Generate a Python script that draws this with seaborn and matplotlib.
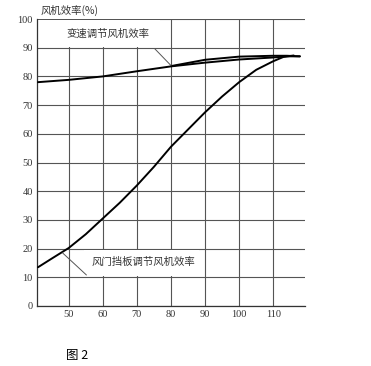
import matplotlib
matplotlib.use("Agg")
import matplotlib.pyplot as plt
from matplotlib.patches import Rectangle
import pandas as pd
import seaborn as sns

# flow (%) vs fan efficiency (%)
damper_flow = [41, 45, 50, 55, 60, 65, 70, 75, 80, 85, 90, 95, 100, 105, 110, 113, 116]
damper_eff = [13.5, 16.5, 20.2, 25.0, 30.5, 36.0, 42.0, 48.5, 55.5, 61.5, 67.5, 73.0, 78.0, 82.3, 85.3, 86.8, 87.3]

speed_flow = [41, 50, 60, 70, 80, 90, 100, 110, 114, 117.8]
speed_eff = [78.0, 78.8, 80.0, 81.8, 83.5, 84.8, 85.9, 86.6, 87.0, 87.0]

speed2_flow = [80, 90, 100, 110, 114, 117.8]
speed2_eff = [83.6, 85.8, 86.9, 87.2, 87.2, 87.0]

x_ticks = [50, 60, 70, 80, 90, 100, 110]
y_ticks = [0, 10, 20, 30, 40, 50, 60, 70, 80, 90, 100]

label_speed = "变速调节风机效率"
label_damper = "风门挡板调节风机效率"
y_title = "风机效率(%)"
caption = "图 2"

sns.set_style("white")
plt.rcParams['font.family'] = ['Liberation Serif', 'Noto Sans CJK SC', 'DejaVu Sans']

fig = plt.figure(figsize=(3.71, 3.66), dpi=100)
ax = fig.add_axes([0.0997, 0.164, 0.7223, 0.784])

df_d = pd.DataFrame({"flow": damper_flow, "eff": damper_eff})
df_s = pd.DataFrame({"flow": speed_flow, "eff": speed_eff})
df_s2 = pd.DataFrame({"flow": speed2_flow, "eff": speed2_eff})
for d in (df_d, df_s, df_s2):
    sns.lineplot(data=d, x="flow", y="eff", ax=ax, color="black", lw=1.4,
                 sort=False, zorder=3)

ax.set_xlim(40.7, 119.3)
ax.set_ylim(0, 100)
ax.set_xticks(x_ticks)
ax.set_yticks(y_ticks)
ax.set_xlabel("")
ax.set_ylabel("")
ax.tick_params(length=0, labelsize=7.5, colors="#333333", pad=3)
ax.grid(True, color="#555555", lw=0.8)
for s in ("top", "right"):
    ax.spines[s].set_visible(False)
for s in ("left", "bottom"):
    ax.spines[s].set_color("#333333")
    ax.spines[s].set_linewidth(0.9)

# white label panels hiding the grid behind the labels
ax.add_patch(Rectangle((40.9, 90.4), 36.0, 9.2, fc="white", ec="none", zorder=1))
ax.add_patch(Rectangle((54.6, 10.4), 33.6, 9.2, fc="white", ec="none", zorder=1))

ax.text(61.5, 95, label_speed, fontsize=7.5, color="#333333", ha="center",
        va="center", family=['Noto Sans CJK SC'], zorder=4)
ax.annotate("", xy=(80, 83.8), xytext=(75.2, 89.7),
            arrowprops=dict(arrowstyle="-", color="#555555", lw=0.7,
                            shrinkA=0, shrinkB=0))

ax.text(56.7, 15.3, label_damper, fontsize=7.5, color="#333333", ha="left",
        va="center", family=['Noto Sans CJK SC'], zorder=4)
ax.annotate("", xy=(48.2, 18.5), xytext=(55.2, 10.8),
            arrowprops=dict(arrowstyle="-", color="#555555", lw=0.7,
                            shrinkA=0, shrinkB=0))

fig.text(0.108, 0.972, y_title, fontsize=7.5, color="#333333",
         ha="left", va="center", family=['Noto Sans CJK SC', 'Liberation Serif'])
fig.text(0.178, 0.03, caption, fontsize=9, color="black",
         ha="left", va="center", family=['Noto Sans CJK SC'])

fig.savefig("out.png", dpi=100)
